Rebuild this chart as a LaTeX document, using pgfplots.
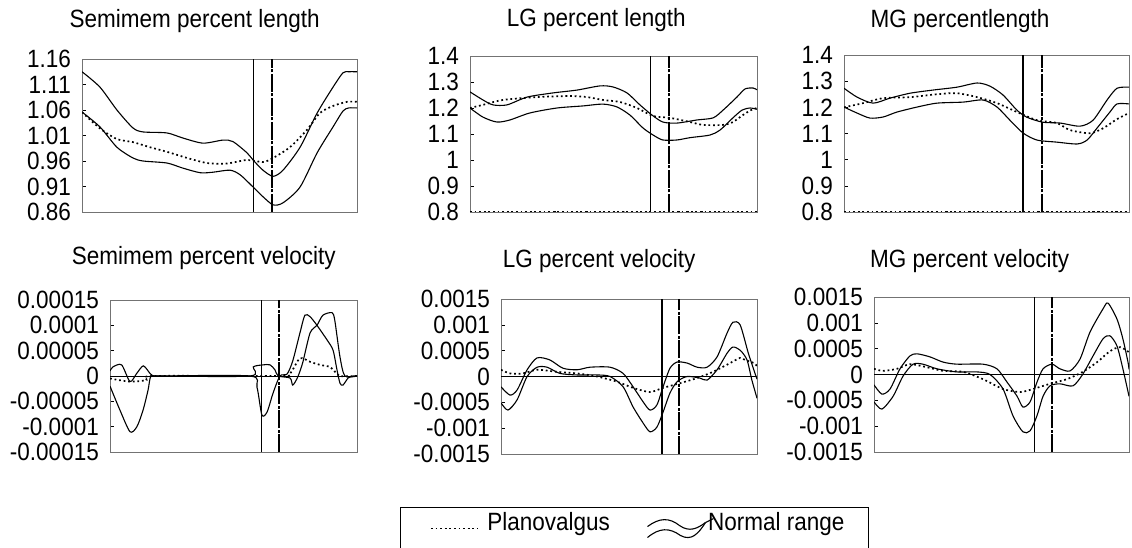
\documentclass[border=0pt]{standalone}
\usepackage{fontspec}
\setmainfont{Liberation Sans}[FakeStretch=0.9]
\usepackage{pgfplots}
\pgfplotsset{compat=1.18}

\pgfplotsset{
  panel/.style={
    scale only axis, xmin=0, xmax=100, xtick=\empty,
    scaled y ticks=false,
    axis line style={black!55, line width=0.9pt},
    ytick pos=left, tick align=inside, major tick length=4pt,
    ytick style={black, line width=0.6pt},
    yticklabel style={font=\fontsize{25}{25}\selectfont, inner sep=0pt, xshift=-11pt},
    title style={font=\fontsize{25}{25}\selectfont, anchor=base},
  },
  nr/.style={black, line width=1.1pt, smooth, tension=0.45},
  pv/.style={black, line width=1.7pt, dash pattern=on 1.8pt off 2.8pt, smooth, tension=0.45},
  vs/.style={black, line width=1.1pt},
  vd/.style={black, line width=2.3pt, dash pattern=on 18pt off 1.5pt on 3pt off 1.5pt},
}

\begin{document}
\begin{tikzpicture}[x=1pt,y=1pt]
\useasboundingbox (0,0) rectangle (1132,547);

% ---------- Semimem percent length ----------
\begin{axis}[panel, at={(82pt,335pt)}, anchor=south west, width=275pt, height=153pt,
  ymin=0.86, ymax=1.16,
  ytick={0.86,0.91,0.96,1.01,1.06,1.11,1.16},
  yticklabels={0.86,0.91,0.96,1.01,1.06,1.11,1.16},
  title={Semimem percent length}, title style={at={(0.41,1)}, yshift=25pt}]
\addplot[vs] coordinates {(62.5,0.86) (62.5,1.16)};
\addplot[vd] coordinates {(69,0.86) (69,1.16)};
\addplot[nr] coordinates {(0,1.135)(6.5,1.105)(12.7,1.06)(18.5,1.025)(22.2,1.017)(30.9,1.015)(36.7,1.005)(44,0.995)(51.3,1.001)(54.9,0.998)(60,0.976)(62.2,0.962)(65.8,0.942)(69.5,0.93)(73.1,0.942)(79.3,0.987)(85.5,1.054)(91.3,1.105)(94.9,1.133)(97,1.135)(100,1.135)};
\addplot[nr] coordinates {(0,1.056)(6.5,1.027)(12.7,0.987)(18.5,0.966)(22.2,0.96)(30.9,0.956)(36.7,0.946)(43,0.937)(47.6,0.938)(53.8,0.942)(57.5,0.933)(62.2,0.909)(65.8,0.89)(69.5,0.874)(73.1,0.878)(79.3,0.909)(85.5,0.976)(91.3,1.027)(94.9,1.058)(97,1.064)(100,1.064)};
\addplot[pv] coordinates {(0,1.056)(6.5,1.024)(12.7,1.003)(18.5,0.997)(24.7,0.987)(30.9,0.978)(38.2,0.966)(45.5,0.956)(52.7,0.955)(60,0.962)(65.8,0.958)(69.5,0.966)(75.6,0.987)(81.8,1.021)(86.5,1.054)(91.3,1.068)(96.4,1.076)(100,1.076)};
\end{axis}

% ---------- LG percent length ----------
\begin{axis}[panel, at={(470pt,335pt)}, anchor=south west, width=287pt, height=156pt,
  ymin=0.8, ymax=1.4,
  ytick={0.8,0.9,1,1.1,1.2,1.3,1.4},
  yticklabels={0.8,0.9,1,1.1,1.2,1.3,1.4},
  title={LG percent length}, title style={at={(0.44,1)}, yshift=23pt}]
\addplot[vs] coordinates {(63,0.8) (63,1.4)};
\addplot[vd] coordinates {(69.3,0.8) (69.3,1.4)};
\addplot[pv, smooth=false] coordinates {(0,0.8) (100,0.8)};
\addplot[nr] coordinates {(0,1.262)(4.5,1.231)(8,1.212)(12.9,1.212)(19.9,1.242)(28.9,1.258)(37.3,1.269)(45.3,1.285)(49.8,1.281)(54.7,1.258)(59.2,1.212)(63.4,1.173)(67.2,1.146)(72.1,1.142)(79.1,1.154)(84.7,1.162)(88.2,1.192)(93,1.242)(95.8,1.273)(98.6,1.277)(100,1.27)};
\addplot[nr] coordinates {(0,1.2)(4.5,1.165)(9.4,1.146)(13.9,1.154)(20.9,1.181)(30.3,1.2)(39.4,1.208)(46.3,1.215)(51.2,1.204)(55.7,1.173)(60.3,1.123)(63.8,1.096)(67.2,1.077)(72.1,1.077)(76.7,1.086)(83.6,1.096)(87.1,1.115)(91.6,1.162)(94.8,1.192)(97.6,1.2)(100,1.195)};
\addplot[pv] coordinates {(0,1.2)(4.5,1.212)(11.5,1.231)(23.3,1.242)(34.8,1.246)(40.8,1.242)(46.3,1.231)(52.3,1.223)(58.2,1.2)(63.8,1.169)(69.7,1.162)(76.7,1.146)(81.2,1.135)(88.2,1.135)(91.6,1.146)(95.1,1.173)(97.9,1.192)(100,1.2)};
\end{axis}

% ---------- MG percentlength ----------
\begin{axis}[panel, at={(844pt,335pt)}, anchor=south west, width=285pt, height=157pt,
  ymin=0.8, ymax=1.4,
  ytick={0.8,0.9,1,1.1,1.2,1.3,1.4},
  yticklabels={0.8,0.9,1,1.1,1.2,1.3,1.4},
  title={MG percentlength}, title style={at={(0.407,1)}, yshift=22pt}]
\addplot[vs] coordinates {(62.8,0.8) (62.8,1.4)};
\addplot[vd] coordinates {(69.5,0.8) (69.5,1.4)};
\addplot[pv, smooth=false] coordinates {(0,0.8) (100,0.8)};
\addplot[nr] coordinates {(0,1.273)(4.6,1.239)(10.2,1.216)(16.1,1.235)(23.2,1.254)(31.2,1.266)(39.6,1.277)(46.7,1.293)(51.2,1.281)(55.8,1.247)(60.7,1.189)(64.2,1.162)(69.8,1.143)(75.8,1.14)(82.8,1.128)(87.4,1.151)(92.3,1.228)(95.8,1.273)(100,1.277)};
\addplot[nr] coordinates {(0,1.201)(4.6,1.178)(9.1,1.159)(13.7,1.163)(18.6,1.182)(25.6,1.201)(32.6,1.216)(41.8,1.22)(48.8,1.228)(53.7,1.201)(58.2,1.151)(62.8,1.102)(67.7,1.075)(74.7,1.067)(81.8,1.06)(85.3,1.075)(88.8,1.121)(93.3,1.182)(95.8,1.213)(100,1.213)};
\addplot[pv] coordinates {(0,1.2)(6.7,1.216)(13.7,1.235)(23.2,1.239)(32.6,1.25)(39.6,1.254)(46.7,1.239)(53.7,1.216)(60.7,1.182)(67.7,1.151)(74.7,1.14)(79.3,1.113)(86.3,1.101)(90.9,1.12)(95.8,1.155)(100,1.178)};
\end{axis}

% ---------- Semimem percent velocity ----------
\begin{axis}[panel, at={(110pt,95pt)}, anchor=south west, width=247pt, height=152pt,
  ymin=-0.00015, ymax=0.00015,
  ytick={-0.00015,-0.0001,-0.00005,0,0.00005,0.0001,0.00015},
  yticklabels={-0.00015,-0.0001,-0.00005,0,0.00005,0.0001,0.00015},
  title={Semimem percent velocity}, title style={at={(0.38,1)}, yshift=30pt}]
\addplot[vs] coordinates {(61.5,-0.00015) (61.5,0.00015)};
\addplot[vd] coordinates {(68.4,-0.00015) (68.4,0.00015)};
\addplot[black, line width=1pt] coordinates {(0,0) (100,0)};
\addplot[nr] coordinates {(0,-0.00002)(4,-0.000067)(8.1,-0.00011)(10.9,-0.0001)(13.4,-0.000067)(15.4,-0.000028)(16.6,0)(20,0)(56.7,0)(59.5,-0.000022)(61.5,-0.000077)(63.6,-0.000071)(66,-0.000034)(68.8,0)(71.7,0.000004)(74,0.00003)(76.9,0.000085)(78.9,0.00012)(81,0.000117)(83.8,0.0001)(87.9,0.000071)(90.3,0.000051)(91.9,0.000012)(93.1,-0.000014)(94.3,-0.000018)(96.4,-0.000004)(98.4,0)(100,0)};
\addplot[nr] coordinates {(0,0.00001)(1.2,0.000018)(4.7,0.000022)(8.1,-0.000011)(10.8,0.000005)(13.5,0.00002)(16.2,0.000005)(17.4,0)(20,0)(56.7,0)(58,0.000018)(62,0.000022)(64.8,0.000022)(66.8,0.000012)(68.1,0)(72.9,-0.000004)(74,-0.000018)(76,-0.000002)(78,0.000026)(81,0.000085)(83.8,0.0001)(86.2,0.00012)(89.9,0.000125)(91,0.00011)(93.1,0.000038)(95.1,0)(100,0)};
\addplot[pv] coordinates {(0,-0.000005)(8.1,-0.000011)(14.8,-0.000008)(17.4,0)(68.4,0)(72.9,0.000005)(76.9,0.000035)(81,0.000028)(85,0.000022)(89,0.000018)(91,0.000009)(93,0)(100,0)};
\end{axis}

% ---------- LG percent velocity ----------
\begin{axis}[panel, at={(501pt,93pt)}, anchor=south west, width=256pt, height=155pt,
  ymin=-0.0015, ymax=0.0015,
  ytick={-0.0015,-0.001,-0.0005,0,0.0005,0.001,0.0015},
  yticklabels={-0.0015,-0.001,-0.0005,0,0.0005,0.001,0.0015},
  title={LG percent velocity}, title style={at={(0.383,1)}, yshift=26pt},
  legend style={at={(-0.3945,-0.342)}, anchor=north west, draw=black, line width=0.9pt,
    font=\fontsize{25}{25}\selectfont, inner xsep=22pt, inner ysep=3pt,
    nodes={text depth=14pt}},
  legend columns=2, legend cell align=left,
  /tikz/every even column/.append style={column sep=35pt}]
\addlegendimage{legend image code/.code={
  \path (0pt,0pt) (62pt,0pt);
  \draw[black, line width=1.7pt, dash pattern=on 1.8pt off 2.8pt] (8pt,0pt) -- (55pt,0pt);}}
\addlegendentry{Planovalgus}
\addlegendimage{legend image code/.code={
  \draw[black, line width=1.1pt] (0pt,2pt) .. controls (12pt,11pt) and (22pt,11pt) .. (32pt,3pt) .. controls (42pt,-4pt) and (50pt,0pt) .. (58pt,6pt);
  \draw[black, line width=1.1pt] (0pt,-9pt) .. controls (12pt,1pt) and (22pt,1pt) .. (33pt,-7pt) .. controls (44pt,-13pt) and (51pt,-5pt) .. (58pt,6pt);
  \draw[black, line width=1.1pt, overlay] (58pt,6pt) -- (66pt,10pt);}}
\addlegendentry{Normal range}
\addplot[vs] coordinates {(62.9,-0.0015) (62.9,0.0015)};
\addplot[vd] coordinates {(69.5,-0.0015) (69.5,0.0015)};
\addplot[black, line width=1pt] coordinates {(0,0) (100,0)};
\addplot[nr] coordinates {(0,-0.0002)(3.5,-0.00036)(6.3,-0.00026)(10.2,0.00013)(14.1,0.00036)(19.1,0.00032)(24.2,0.00016)(29.7,0.00013)(34.8,0.00018)(42.6,0.00018)(47.7,0.00006)(51.6,-0.0002)(55.5,-0.00049)(58.2,-0.00065)(60.9,-0.00055)(63.3,-0.0002)(66,0.00016)(68.8,0.00028)(72.7,0.00026)(76.6,0.00018)(80.5,0.00018)(84.4,0.00038)(88.3,0.00084)(90.6,0.00105)(93.4,0.001)(96.5,0.00047)(98.4,0.00018)(100,-0.00005)};
\addplot[nr] coordinates {(0,-0.00051)(2.7,-0.00065)(6.3,-0.00045)(10.2,0)(14.1,0.00018)(18,0.00018)(23,0.00006)(29.7,0.00003)(37.5,0.00003)(42.6,0)(47.7,-0.0002)(51.6,-0.00059)(55.5,-0.0009)(58.2,-0.00107)(60.9,-0.00098)(63.3,-0.00069)(66,-0.00032)(68.8,-0.0001)(72.7,0)(77.7,-0.00003)(80.5,-0.00007)(84.4,0.00013)(88.3,0.00045)(90.6,0.00057)(93.4,0.00051)(96.1,0.00032)(98,-0.00007)(100,-0.00042)};
\addplot[pv] coordinates {(0,0.00013)(3.5,0.00006)(8.6,0.00006)(14.1,0.00013)(21.9,0.00009)(29.7,0.00006)(37.5,0)(45.3,-0.0001)(51.6,-0.00022)(58.2,-0.0003)(63.3,-0.00022)(69.9,-0.00013)(76.6,-0.00003)(82.8,0.00009)(89.5,0.00026)(93.4,0.00036)(95.3,0.00032)(98.8,0.00026)(100,0.0002)};
\end{axis}

% ---------- MG percent velocity ----------
\begin{axis}[panel, at={(874pt,95pt)}, anchor=south west, width=255pt, height=155pt,
  ymin=-0.0015, ymax=0.0015,
  ytick={-0.0015,-0.001,-0.0005,0,0.0005,0.001,0.0015},
  yticklabels={-0.0015,-0.001,-0.0005,0,0.0005,0.001,0.0015},
  title={MG percent velocity}, title style={at={(0.375,1)}, yshift=24pt}]
\addplot[vs] coordinates {(63.1,-0.0015) (63.1,0.0015)};
\addplot[vd] coordinates {(69.8,-0.0015) (69.8,0.0015)};
\addplot[black, line width=1pt] coordinates {(0,0) (100,0)};
\addplot[nr] coordinates {(0,-0.0002)(3.1,-0.00038)(6.3,-0.00028)(10.2,0.00011)(14.1,0.00036)(16.9,0.0004)(22,0.00034)(27.1,0.00024)(32.5,0.0002)(42.7,0.0002)(48.2,0.00011)(52.2,-0.00015)(56.1,-0.00042)(58.4,-0.00063)(61.2,-0.00053)(63.9,-0.00015)(66.3,0.00011)(69.8,0.0002)(72.9,0.00011)(76.9,0.00007)(80.8,0.0003)(84.7,0.00082)(89.8,0.00127)(91.8,0.00138)(95.3,0.00107)(97.6,0.00069)(99.6,0.00024)(100,0.0001)};
\addplot[nr] coordinates {(0,-0.00053)(3.1,-0.00067)(7.5,-0.00042)(11.4,-0.00003)(15.3,0.0002)(19.2,0.0002)(24.7,0.00011)(32.5,0.00005)(40.4,0.00005)(45.5,0)(50.6,-0.00028)(54.5,-0.0008)(58.4,-0.00111)(61.2,-0.00109)(63.9,-0.0008)(66.3,-0.00042)(69,-0.00022)(72.9,-0.00018)(78,-0.00022)(81.8,0)(85.9,0.00036)(89.8,0.00069)(92.5,0.00075)(95.3,0.00055)(97.6,0.00011)(100,-0.00042)};
\addplot[pv] coordinates {(0,0.00011)(3.5,0.00007)(9,0.00011)(14.1,0.0002)(20.8,0.00014)(27.1,0.00007)(35,0.00005)(42.7,-0.00009)(50.6,-0.00028)(57.3,-0.00034)(62.4,-0.00028)(69,-0.00018)(75.7,-0.00009)(81.8,0.00005)(87.5,0.00024)(92.5,0.00045)(96.5,0.00053)(100,0.00043)};
\end{axis}
\end{tikzpicture}
\end{document}
